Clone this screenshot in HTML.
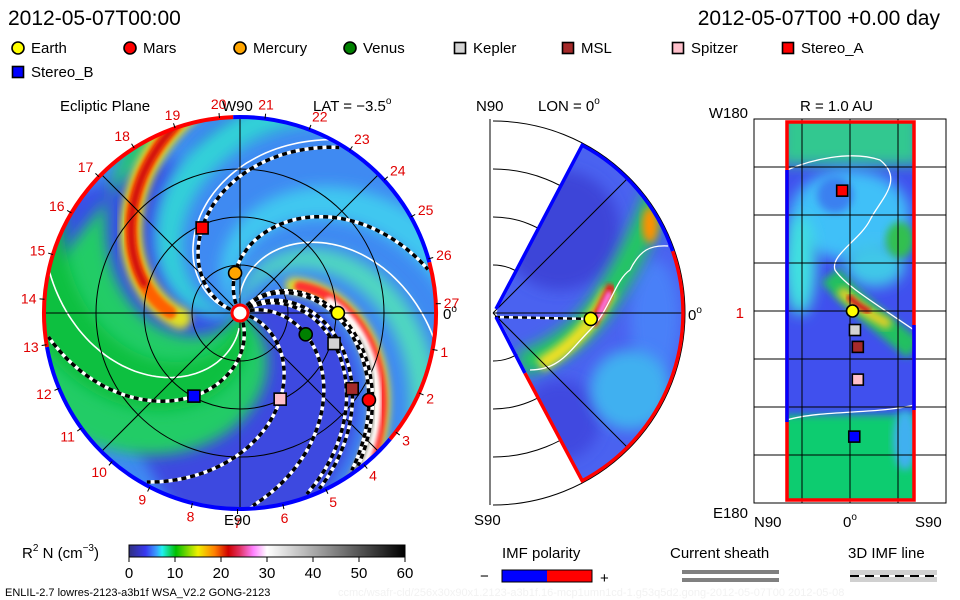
<!DOCTYPE html>
<html><head><meta charset="utf-8">
<style>
html,body{margin:0;padding:0;background:#fff;}
svg{display:block;font-family:"Liberation Sans",sans-serif;}
</style></head>
<body>
<svg id="root" width="960" height="600" viewBox="0 0 960 600" xmlns="http://www.w3.org/2000/svg">
<defs>
  <filter id="blur4" x="-20%" y="-20%" width="140%" height="140%"><feGaussianBlur stdDeviation="4"/></filter>
  <filter id="blur7" x="-30%" y="-30%" width="160%" height="160%"><feGaussianBlur stdDeviation="7"/></filter>
  <filter id="blur2"><feGaussianBlur stdDeviation="2"/></filter>
  <clipPath id="diskClip"><circle cx="240" cy="313" r="195"/></clipPath>
  <clipPath id="wedgeClip"><path id="wedgeClipPath" d=""/></clipPath>
  <clipPath id="rectClip"><rect x="787" y="122" width="127" height="378"/></clipPath>
  <linearGradient id="cbar" x1="0" x2="1" y1="0" y2="0">
    <stop offset="0" stop-color="#303080"/>
    <stop offset="0.06" stop-color="#3838f0"/>
    <stop offset="0.10" stop-color="#3aa0ff"/>
    <stop offset="0.12" stop-color="#20f0f0"/>
    <stop offset="0.17" stop-color="#00c000"/>
    <stop offset="0.25" stop-color="#f0f000"/>
    <stop offset="0.31" stop-color="#ff8000"/>
    <stop offset="0.36" stop-color="#d00000"/>
    <stop offset="0.40" stop-color="#e03060"/>
    <stop offset="0.45" stop-color="#ff80ff"/>
    <stop offset="0.50" stop-color="#ffffff"/>
    <stop offset="1" stop-color="#000000"/>
  </linearGradient>
</defs>

<text x="8" y="25" font-size="21" fill="#000">2012-05-07T00:00</text>
<text x="940" y="25" font-size="21" fill="#000" text-anchor="end">2012-05-07T00 +0.00 day</text>

<g id="legend"></g>

<g id="left">
  <text x="60" y="111" font-size="15">Ecliptic Plane</text>
  <g clip-path="url(#diskClip)" id="diskFill"></g>
  <g id="diskLines"></g>
  <g id="diskRim"></g>
  <g id="rotLabels"></g>
  <text x="222" y="111" font-size="15">W90</text>
  <text x="313" y="111" font-size="15">LAT = −3.5<tspan font-size="10" dy="-7">o</tspan></text>
  <text x="224" y="525" font-size="15">E90</text>
  <text x="443" y="319" font-size="15">0<tspan font-size="10" dy="-7">o</tspan></text>
  <g id="leftPlanets"></g>
</g>

<g id="mid">
  <text x="476" y="111" font-size="15">N90</text>
  <text x="538" y="111" font-size="15">LON = 0<tspan font-size="10" dy="-7">o</tspan></text>
  <text x="474" y="525" font-size="15">S90</text>
  <text x="688" y="320" font-size="15">0<tspan font-size="10" dy="-7">o</tspan></text>
  <g id="midArcs"></g>
  <g clip-path="url(#wedgeClip)" id="wedgeFill"></g>
  <g id="wedgeLines"></g>
  <g id="wedgeRim"></g>
  <g id="midPlanets"></g>
</g>

<g id="right">
  <text x="800" y="111" font-size="15">R = 1.0 AU</text>
  <text x="748" y="118" font-size="15" text-anchor="end">W180</text>
  <text x="748" y="518" font-size="15" text-anchor="end">E180</text>
  <text x="744" y="318" font-size="15" fill="#e00000" text-anchor="end">1</text>
  <text x="754" y="527" font-size="15">N90</text>
  <text x="843" y="527" font-size="15">0<tspan font-size="10" dy="-7">o</tspan></text>
  <text x="915" y="527" font-size="15">S90</text>
  <g clip-path="url(#rectClip)" id="rectFill"></g>
  <g id="rectGrid"></g>
  <g id="rightPlanets"></g>
</g>

<g id="colorbar">
  <text x="22" y="558" font-size="15">R<tspan font-size="10" dy="-7">2</tspan><tspan dy="7"> N (cm</tspan><tspan font-size="10" dy="-7">−3</tspan><tspan dy="7">)</tspan></text>
  <rect x="129" y="545" width="276" height="12" fill="url(#cbar)" stroke="#000" stroke-width="1"/>
  <g id="cbarTicks"></g>
</g>

<text x="5" y="596" font-size="11">ENLIL-2.7 lowres-2123-a3b1f WSA_V2.2 GONG-2123</text>
<text x="338" y="596" font-size="11" fill="#f2f2f2">ccmc/wsafr-cld/256x30x90x1.2123-a3b1f.16-mcp1umn1cd-1.g53q5d2.gong-2012-05-07T00   2012-05-08</text>

<g>
  <text x="502" y="558" font-size="15">IMF polarity</text>
  <text x="480" y="581" font-size="15">−</text>
  <rect x="502" y="570" width="45" height="12" fill="#0000ff"/>
  <rect x="547" y="570" width="45" height="12" fill="#ff0000"/>
  <rect x="502" y="570" width="90" height="12" fill="none" stroke="#000"/>
  <text x="600" y="583" font-size="15">+</text>
</g>
<g>
  <text x="670" y="558" font-size="15">Current sheath</text>
  <rect x="682" y="570" width="97" height="4" fill="#808080"/>
  <rect x="682" y="578" width="97" height="4" fill="#808080"/>
</g>
<g>
  <text x="848" y="558" font-size="15">3D IMF line</text>
  <rect x="850" y="570" width="87" height="12" fill="#d0d0d0"/>
  <line x1="850" y1="576" x2="937" y2="576" stroke="#000" stroke-width="2" stroke-dasharray="9,6"/>
  <line x1="859" y1="576" x2="937" y2="576" stroke="#fff" stroke-width="2" stroke-dasharray="6,9"/>
</g>

<script>
// ---------------- data ----------------
const planetNames   = ["Earth","Mars","Mercury","Venus","Kepler","MSL","Spitzer","Stereo_A","Stereo_B"];
const planetColors  = ["#ffff00","#ff0000","#ffa500","#008000","#d3d3d3","#a52a2a","#ffc0cb","#ff0000","#0000ff"];
const planetShapes  = ["circle","circle","circle","circle","square","square","square","square","square"];
const planetRadiusAU= [1.02, 1.62, 0.42, 0.72, 1.03, 1.41, 0.99, 0.97, 0.99];
const planetLonDeg  = [0, -34, 97, -18, -18, -34, -65, 114, -119];
const planetLatDeg  = [-3.5, -1, 3, -1, -7, -11, -11, 11, -6];
const showOnRight   = [true,false,false,false,true,true,true,true,true];
const cbarTicks     = [0,10,20,30,40,50,60];
const rotationNums  = [1,2,3,4,5,6,7,8,9,10,11,12,13,14,15,16,17,18,19,20,21,22,23,24,25,26,27];

const NS="http://www.w3.org/2000/svg";
function mk(tag, attrs, parent){const e=document.createElementNS(NS,tag);for(const k in attrs)e.setAttribute(k,attrs[k]);if(parent)parent.appendChild(e);return e;}
const D2R=Math.PI/180;
const LCX=240, LCY=313, LR=195, PX_PER_AU=96;
function lx(rAU,lon){return LCX+rAU*PX_PER_AU*Math.cos(lon*D2R);}
function ly(rAU,lon){return LCY-rAU*PX_PER_AU*Math.sin(lon*D2R);}
const MCX=493, MCY=313;
function mx(rAU,lat){return MCX+rAU*PX_PER_AU*Math.cos(lat*D2R);}
function my(rAU,lat){return MCY-rAU*PX_PER_AU*Math.sin(lat*D2R);}
function rxLat(lat){return 850-lat*0.711;}
function ryLon(lon){return 311-lon*190/180;}
function cbx(v){return 129+v/60*276;}

function spiralPts(theta0,k,r0,r1){const p=[];for(let r=r0;r<=r1;r+=3){const t=(theta0-k*r)*D2R;p.push([LCX+r*Math.cos(t),LCY-r*Math.sin(t)]);}return p;}
function ptsToD(p){return "M"+p.map(q=>q[0].toFixed(1)+","+q[1].toFixed(1)).join("L");}
const K=0.55;
function P(cx,cy,r,a){return [cx+r*Math.cos(a*D2R), cy-r*Math.sin(a*D2R)];}
function arcCW(cx,cy,r,a0,a1,move){const p0=P(cx,cy,r,a0),p1=P(cx,cy,r,a1);const large=(a0-a1)>180?1:0;return (move?`M${p0[0]},${p0[1]}`:"")+`A${r},${r} 0 ${large} 1 ${p1[0]},${p1[1]}`;}

function drawMarker(parent,i,x,y,s){
  let m;
  if(planetShapes[i]==="circle") m=mk("circle",{cx:x,cy:y,r:s/2+0.5,fill:planetColors[i],stroke:"#000","stroke-width":1.6},parent);
  else m=mk("rect",{x:x-s/2,y:y-s/2,width:s,height:s,fill:planetColors[i],stroke:"#000","stroke-width":1.6},parent);
  return m;
}

// legend
const legend=document.getElementById("legend");
const legendX=[18,130,240,350,460,568,678,788,18];
const legendY=[48,48,48,48,48,48,48,48,72];
planetNames.forEach((n,i)=>{
  const g=mk("g",{},legend);
  
  
  drawMarker(g,i,legendX[i],legendY[i],11);
  const t=mk("text",{x:legendX[i]+13,y:legendY[i]+5,"font-size":15},g);
  t.textContent=n;
});

// left disk fill
const df=document.getElementById("diskFill");
mk("rect",{x:30,y:100,width:420,height:420,fill:"#3f8af2"},df);
function band(th0a,th0b,fill,filt){
  const a=spiralPts(th0a,K,0,260), b=spiralPts(th0b,K,0,260).reverse();
  const p=mk("path",{d:ptsToD(a.concat(b))+"Z",fill:fill},df);
  if(filt)p.setAttribute("filter",filt);
}
band(45,-60,"#3c48e0","url(#blur7)");
band(-60,-160,"#3850e6","url(#blur7)");
band(330,235,"#22cc66","url(#blur7)");
band(300,262,"#10c040","url(#blur7)");
band(140,118,"#40c8f0","url(#blur7)");
band(200,180,"#30d0d8","url(#blur7)");
band(95,78,"#50d8c0","url(#blur7)");
function arm(th0,r0,r1,col,w,filt){
  const p=mk("path",{d:ptsToD(spiralPts(th0,K,r0,r1)),fill:"none",stroke:col,"stroke-width":w,"stroke-linecap":"round"},df);
  if(filt)p.setAttribute("filter",filt);
}
arm(218,60,215,"#e0e020",22,"url(#blur4)");
arm(218,70,215,"#ff6000",13,"url(#blur2)");
arm(218,100,215,"#d01010",7,"url(#blur2)");
arm(60,60,215,"#e8e020",16,"url(#blur4)");
arm(60,65,215,"#ff3030",10,"url(#blur2)");
arm(57,90,215,"#ffffff",8,"url(#blur2)");
arm(53,120,215,"#909090",7,"url(#blur2)");
[170,100,275,20].forEach(t=>{mk("path",{d:ptsToD(spiralPts(t,K,15,210)),fill:"none",stroke:"#fff","stroke-width":1.6},df);});

// left disk lines
const dl=document.getElementById("diskLines");
[0.5,1,1.5].forEach(r=>mk("circle",{cx:LCX,cy:LCY,r:r*PX_PER_AU,fill:"none",stroke:"#000","stroke-width":1},dl));
[0,45,90,135].forEach(a=>{mk("line",{x1:LCX-LR*Math.cos(a*D2R),y1:LCY+LR*Math.sin(a*D2R),x2:LCX+LR*Math.cos(a*D2R),y2:LCY-LR*Math.sin(a*D2R),stroke:"#000","stroke-width":1},dl);});
planetNames.forEach((n,i)=>{
  const rpx=planetRadiusAU[i]*PX_PER_AU;
  const th0=planetLonDeg[i]+K*rpx;
  const d=ptsToD(spiralPts(th0,K,10,LR));
  const g=mk("g",{},dl);
  
  
  g.setAttribute("clip-path","url(#diskClip)");
  mk("path",{d:d,fill:"none",stroke:"#fff","stroke-width":3.5},g);
  mk("path",{d:d,fill:"none",stroke:"#000","stroke-width":3.5,"stroke-dasharray":"5,4"},g);
});
mk("circle",{cx:LCX,cy:LCY,r:8,fill:"#fff",stroke:"#f00","stroke-width":3},dl);
// rim
const rim=document.getElementById("diskRim");
[[190,92,"#ff0000"],[320,190,"#0000ff"],[375,320,"#ff0000"],[452,375,"#0000ff"]].forEach(s=>{
  mk("path",{d:arcCW(LCX,LCY,LR+1,s[0],s[1],true),fill:"none",stroke:s[2],"stroke-width":4},rim);
});
// rotation labels
const rl=document.getElementById("rotLabels");
rotationNums.forEach(n=>{
  const deg=96-(n-20)*13.33;
  const a=deg*D2R;
  const c=Math.cos(a);
  const anchor=c>0.35?"start":(c<-0.35?"end":"middle");
  const t=mk("text",{x:LCX+204*c,y:LCY-210*Math.sin(a)+5,"font-size":14,fill:"#e00000","text-anchor":anchor},rl);
  t.textContent=n;
  mk("line",{x1:LCX+196*c,y1:LCY-196*Math.sin(a),x2:LCX+201*c,y2:LCY-201*Math.sin(a),stroke:"#000"},rl);
});
const lp=document.getElementById("leftPlanets");
planetNames.forEach((n,i)=>{
  const m=drawMarker(lp,i,lx(planetRadiusAU[i],planetLonDeg[i]),ly(planetRadiusAU[i],planetLonDeg[i]),12);
  
  
});

// middle panel
const ma=document.getElementById("midArcs");
mk("line",{x1:490,y1:119,x2:490,y2:505,stroke:"#000"},ma);
[0.5,1,1.5,2].forEach(r=>{mk("path",{d:arcCW(MCX,MCY,r*PX_PER_AU,90,-90,true),fill:"none",stroke:"#000","stroke-width":1},ma);});
const WR=190, WA=62;
const wTop=P(MCX,MCY,WR,WA);
const wd=`M${MCX+3},${MCY}L${wTop[0]},${wTop[1]}`+arcCW(MCX,MCY,WR,WA,-WA,false)+"Z";
document.getElementById("wedgeClipPath").setAttribute("d",wd);
const wf=document.getElementById("wedgeFill");
mk("rect",{x:490,y:110,width:200,height:400,fill:"#4a62f0"},wf);
mk("ellipse",{cx:560,cy:230,rx:60,ry:60,fill:"#3c44d8",filter:"url(#blur7)"},wf);
mk("ellipse",{cx:560,cy:420,rx:40,ry:40,fill:"#4048e0",filter:"url(#blur7)"},wf);
mk("ellipse",{cx:655,cy:320,rx:25,ry:60,fill:"#4a80f8",filter:"url(#blur7)"},wf);
mk("ellipse",{cx:630,cy:390,rx:40,ry:40,fill:"#40b0f0",filter:"url(#blur7)"},wf);
mk("path",{d:"M520,365 C560,350 585,330 605,300 C625,270 640,240 660,190",fill:"none",stroke:"#20c860","stroke-width":26,filter:"url(#blur7)"},wf);
mk("path",{d:"M540,365 C575,345 595,320 610,290",fill:"none",stroke:"#f0e020","stroke-width":14,filter:"url(#blur4)"},wf);
mk("path",{d:"M592,325 C600,310 605,300 612,285",fill:"none",stroke:"#e02020","stroke-width":9,filter:"url(#blur2)"},wf);
mk("path",{d:"M598,318 C602,308 606,300 610,292",fill:"none",stroke:"#ff80ff","stroke-width":5,filter:"url(#blur2)"},wf);
mk("ellipse",{cx:650,cy:225,rx:8,ry:18,fill:"#ff9000",filter:"url(#blur4)"},wf);
mk("path",{d:"M530,370 C560,370 570,350 590,330 C610,310 615,280 630,270 C640,250 650,245 668,246",fill:"none",stroke:"#fff","stroke-width":1.3},wf);
const wl=document.getElementById("wedgeLines");
[45,0,-45].forEach(a=>{const p=P(MCX,MCY,WR,a);mk("line",{x1:MCX,y1:MCY,x2:p[0],y2:p[1],stroke:"#000","stroke-width":1},wl);});
const wrim=document.getElementById("wedgeRim");
const midLow=P(MCX,MCY,68,-WA);
mk("path",{d:`M${MCX+3},${MCY-4}L${wTop[0]},${wTop[1]}`+arcCW(MCX,MCY,WR,WA,19,false),fill:"none",stroke:"#0000ff","stroke-width":3.5},wrim);
mk("path",{d:arcCW(MCX,MCY,WR,19,-WA,true)+`L${midLow[0]},${midLow[1]}`,fill:"none",stroke:"#ff0000","stroke-width":3.5},wrim);
mk("path",{d:`M${midLow[0]},${midLow[1]}L${MCX+3},${MCY+4}`,fill:"none",stroke:"#0000ff","stroke-width":3.5},wrim);
const ml=mk("g",{},wl);


mk("line",{x1:MCX+2,y1:MCY+4,x2:mx(1.02,-3.5),y2:my(1.02,-3.5),stroke:"#fff","stroke-width":2.5},ml);
mk("line",{x1:MCX+2,y1:MCY+4,x2:mx(1.02,-3.5),y2:my(1.02,-3.5),stroke:"#000","stroke-width":2.5,"stroke-dasharray":"5,4"},ml);
const mp=document.getElementById("midPlanets");
const em=drawMarker(mp,0,mx(planetRadiusAU[0],planetLatDeg[0]),my(planetRadiusAU[0],planetLatDeg[0]),12);



// right panel
const rf=document.getElementById("rectFill");
mk("rect",{x:780,y:115,width:140,height:400,fill:"#4050ee"},rf);
mk("rect",{x:780,y:105,width:140,height:60,fill:"#30c890",filter:"url(#blur7)"},rf);
mk("ellipse",{cx:850,cy:215,rx:60,ry:45,fill:"#40c0f8",filter:"url(#blur7)"},rf);
mk("ellipse",{cx:835,cy:195,rx:18,ry:18,fill:"#3a80f0",filter:"url(#blur4)"},rf);
mk("ellipse",{cx:875,cy:265,rx:30,ry:22,fill:"#40c8e8",filter:"url(#blur7)"},rf);
mk("ellipse",{cx:800,cy:265,rx:16,ry:50,fill:"#40e0e0",filter:"url(#blur7)"},rf);
mk("ellipse",{cx:900,cy:240,rx:14,ry:18,fill:"#30c050",filter:"url(#blur4)"},rf);
mk("path",{d:"M830,275 C850,300 880,320 914,350",fill:"none",stroke:"#20c060","stroke-width":22,filter:"url(#blur4)"},rf);
mk("path",{d:"M840,290 C855,305 870,315 890,325",fill:"none",stroke:"#f0d020","stroke-width":10,filter:"url(#blur4)"},rf);
mk("path",{d:"M848,296 C856,304 862,308 870,312",fill:"none",stroke:"#d02020","stroke-width":6,filter:"url(#blur2)"},rf);
mk("rect",{x:780,y:415,width:140,height:90,fill:"#10cc70",filter:"url(#blur4)"},rf);
mk("ellipse",{cx:905,cy:440,rx:12,ry:30,fill:"#40b0f0",filter:"url(#blur4)"},rf);
mk("path",{d:"M787,170 C810,160 850,150 880,160 C905,180 880,200 870,220 C860,240 830,255 835,270 C845,285 870,300 914,330",fill:"none",stroke:"#fff","stroke-width":1.3},rf);
mk("path",{d:"M787,420 C820,410 880,414 914,405",fill:"none",stroke:"#fff","stroke-width":1.3},rf);
const rg=document.getElementById("rectGrid");
mk("rect",{x:754,y:119,width:192,height:384,fill:"none",stroke:"#000"},rg);
[167,215,263,311,359,407,455].forEach(y=>mk("line",{x1:754,y1:y,x2:946,y2:y,stroke:"#000"},rg));
[802,850,898].forEach(x=>mk("line",{x1:x,y1:119,x2:x,y2:503,stroke:"#000"},rg));
mk("rect",{x:787,y:122,width:127,height:378,fill:"none",stroke:"#ff0000","stroke-width":3.5},rg);
mk("line",{x1:787,y1:170,x2:787,y2:422,stroke:"#0000ff","stroke-width":3.5},rg);
mk("line",{x1:914,y1:325,x2:914,y2:410,stroke:"#0000ff","stroke-width":3.5},rg);
const rp=document.getElementById("rightPlanets");
planetNames.forEach((n,i)=>{
  if(!showOnRight[i])return;
  const m=drawMarker(rp,i,rxLat(planetLatDeg[i]),ryLon(planetLonDeg[i]),11);
  
  
});

// colorbar ticks
const ct=document.getElementById("cbarTicks");
cbarTicks.forEach(v=>{
  mk("line",{x1:cbx(v),y1:557,x2:cbx(v),y2:562,stroke:"#000"},ct);
  const t=mk("text",{x:cbx(v),y:578,"font-size":15,"text-anchor":"middle"},ct);
  
  
  t.textContent=v;
});
</script>
</svg>
</body></html>
